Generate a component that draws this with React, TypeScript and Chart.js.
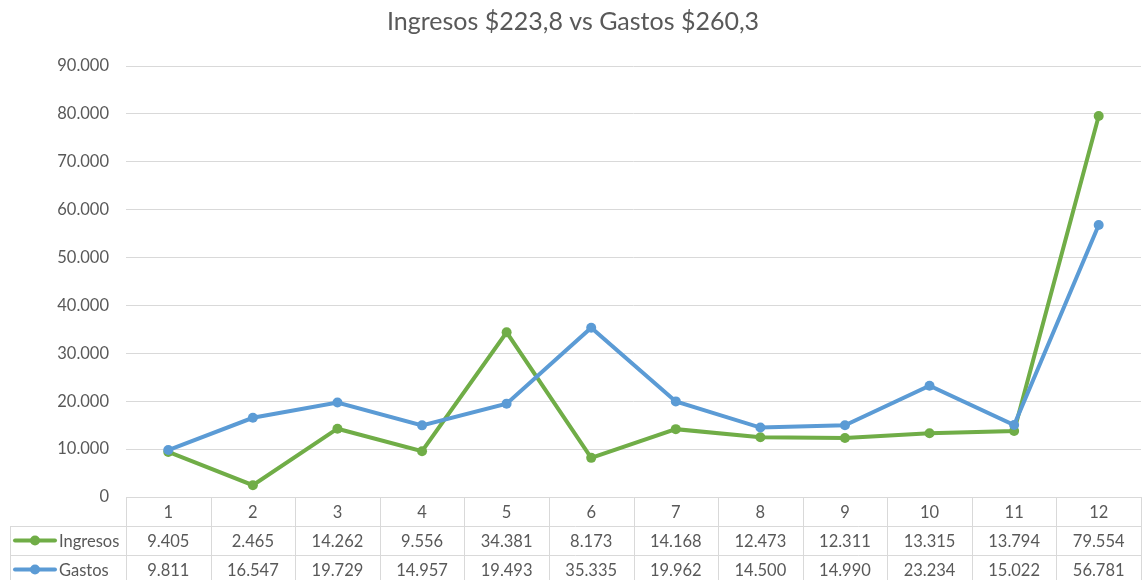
import { useEffect, useRef } from 'react';
import { Chart, registerables } from 'chart.js';

Chart.register(...registerables);

const categories = ['1', '2', '3', '4', '5', '6', '7', '8', '9', '10', '11', '12'];
const ingresos = [9405, 2465, 14262, 9556, 34381, 8173, 14168, 12473, 12311, 13315, 13794, 79554];
const gastos = [9811, 16547, 19729, 14957, 19493, 35335, 19962, 14500, 14990, 23234, 15022, 56781];
const seriesNames = ['Ingresos', 'Gastos'];
const titleText = 'Ingresos $223,8 vs Gastos $260,3';

const FONT = 'Lato, "Open Sans", sans-serif';
const TEXT = '#595959';
const GRID = '#d9d9d9';
const GREEN = '#70AD47';
const BLUE = '#5B9BD5';

const fmt = (v: number) => Math.round(v).toString().replace(/\B(?=(\d{3})+(?!\d))/g, '.');

const tablePlugin = {
  id: 'dataTable',
  afterDraw(chart: any) {
    const { ctx, chartArea, scales } = chart;
    const x = scales.x;
    const top = chartArea.bottom;
    const rowH = 29;
    const r1 = top + rowH;
    const r2 = r1 + rowH;
    const r3 = r2 + rowH;
    const leftX = 10;
    const n = categories.length;
    const colW = (chartArea.right - chartArea.left) / n;
    ctx.save();
    ctx.strokeStyle = GRID;
    ctx.lineWidth = 1;
    const line = (x1: number, y1: number, x2: number, y2: number) => {
      ctx.beginPath();
      ctx.moveTo(x1, y1);
      ctx.lineTo(x2, y2);
      ctx.stroke();
    };
    line(chartArea.left, Math.round(top) + 0.5, chartArea.right, Math.round(top) + 0.5);
    line(leftX, Math.round(r1) + 0.5, chartArea.right, Math.round(r1) + 0.5);
    line(leftX, Math.round(r2) + 0.5, chartArea.right, Math.round(r2) + 0.5);
    line(leftX, Math.round(r3) + 0.5, chartArea.right, Math.round(r3) + 0.5);
    for (let i = 0; i <= n; i++) {
      const xx = Math.round(chartArea.left + i * colW) + 0.5;
      line(xx, top, xx, r3);
    }
    line(leftX + 0.5, r1, leftX + 0.5, r3);

    ctx.font = `16.5px ${FONT}`;
    ctx.fillStyle = TEXT;
    ctx.textAlign = 'center';
    ctx.textBaseline = 'middle';
    categories.forEach((c, i) => {
      const cx = x.getPixelForValue(i);
      ctx.fillText(c, cx, top + rowH / 2 + 1);
      ctx.fillText(fmt(ingresos[i]), cx, r1 + rowH / 2 + 1);
      ctx.fillText(fmt(gastos[i]), cx, r2 + rowH / 2 + 1);
    });

    const keys = [
      { name: seriesNames[0], color: GREEN, cy: r1 + rowH / 2 },
      { name: seriesNames[1], color: BLUE, cy: r2 + rowH / 2 },
    ];
    keys.forEach((k) => {
      ctx.strokeStyle = k.color;
      ctx.lineWidth = 4;
      ctx.lineCap = 'round';
      line(15, k.cy, 55, k.cy);
      ctx.fillStyle = k.color;
      ctx.beginPath();
      ctx.arc(35, k.cy, 5, 0, Math.PI * 2);
      ctx.fill();
      ctx.fillStyle = TEXT;
      ctx.textAlign = 'left';
      ctx.fillText(k.name, 59, k.cy + 1);
    });
    ctx.restore();
  },
};

export default function App() {
  const ref = useRef<HTMLCanvasElement>(null);
  useEffect(() => {
    if (!ref.current) return;
    const chart = new Chart(ref.current, {
      type: 'line',
      data: {
        labels: categories,
        datasets: [
          {
            label: seriesNames[0],
            data: ingresos,
            borderColor: GREEN,
            backgroundColor: GREEN,
            borderWidth: 4,
            pointRadius: 5,
            pointBorderWidth: 0,
            pointBackgroundColor: GREEN,
            tension: 0,
            order: 1,
          },
          {
            label: seriesNames[1],
            data: gastos,
            borderColor: BLUE,
            backgroundColor: BLUE,
            borderWidth: 4,
            pointRadius: 5,
            pointBorderWidth: 0,
            pointBackgroundColor: BLUE,
            tension: 0,
            order: 0,
          },
        ],
      },
      options: {
        responsive: false,
        animation: false,
        layout: { padding: { left: 0, right: 0, top: 0, bottom: 83 } },
        plugins: {
          legend: { display: false },
          tooltip: { enabled: false },
          title: {
            display: true,
            text: titleText,
            color: TEXT,
            font: { family: FONT, size: 25, weight: 'normal', lineHeight: 1.2 },
            padding: { top: 7, bottom: 29 },
          },
        },
        scales: {
          x: {
            display: false,
            offset: true,
          },
          y: {
            min: 0,
            max: 90000,
            border: { display: false },
            grid: { color: GRID, lineWidth: 1, drawTicks: false },
            ticks: {
              stepSize: 10000,
              color: TEXT,
              padding: 17,
              font: { family: FONT, size: 16.5 },
              callback: (v: any) => fmt(Number(v)),
            },
            afterFit: (scale: any) => {
              scale.width = 126;
            },
          },
        },
      },
      plugins: [tablePlugin],
    });
    return () => chart.destroy();
  }, []);
  return (
    <div style={{ position: 'absolute', left: 0, top: 0, width: 1143, height: 580, overflow: 'hidden', background: '#fff' }}>
      <canvas ref={ref} width={1146} height={580} style={{ display: 'block' }} />
    </div>
  );
}
